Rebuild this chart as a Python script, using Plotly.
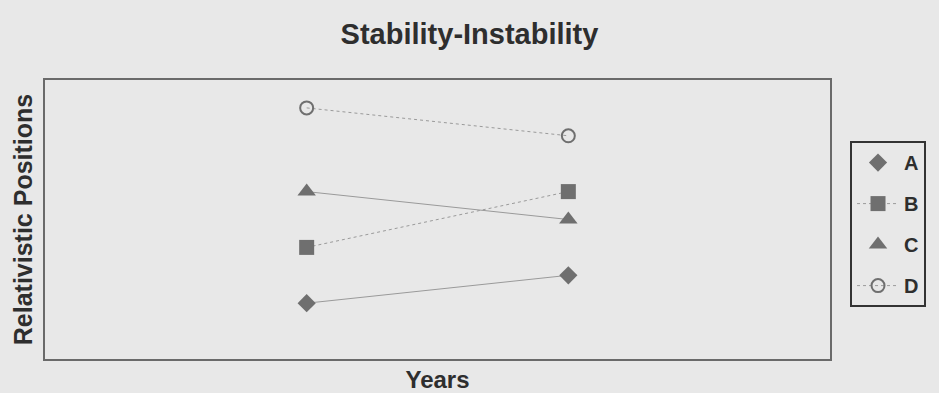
import plotly.graph_objects as go

# Two observation years, positions of four subjects in each
years = ["Year 1", "Year 2"]
series_names = ["A", "B", "C", "D"]
pos_a = [2, 3]
pos_b = [4, 6]
pos_c = [6, 5]
pos_d = [9, 8]

BG = "#e8e8e8"
MARK = "#6f6f6f"
LINE = "#9a9a9a"
TEXT = "#2e2e2e"
FONT = "Liberation Sans, Arial, sans-serif"

styles = {
    "A": dict(symbol="diamond", size=14, dash="solid", legend_line=False),
    "B": dict(symbol="square", size=15, dash="dot", legend_line=True),
    "C": dict(symbol="triangle-up", size=16, dash="solid", legend_line=False),
    "D": dict(symbol="circle-open", size=13, dash="dot", legend_line=True),
}
values = {"A": pos_a, "B": pos_b, "C": pos_c, "D": pos_d}

fig = go.Figure()
for name in series_names:
    st = styles[name]
    marker = dict(symbol=st["symbol"], size=st["size"], color=MARK,
                  line=dict(color=MARK, width=2 if "open" in st["symbol"] else 0))
    label = f"<b>{name}</b>"
    if st["legend_line"]:
        fig.add_trace(go.Scatter(
            x=years, y=values[name], name=label, mode="lines+markers",
            line=dict(color=LINE, width=1, dash=st["dash"]), marker=marker,
            legendgroup=name))
    else:
        # connecting line kept out of the legend
        fig.add_trace(go.Scatter(
            x=years, y=values[name], mode="lines", showlegend=False,
            line=dict(color=LINE, width=1, dash=st["dash"]), hoverinfo="skip"))
        fig.add_trace(go.Scatter(
            x=years, y=values[name], name=label, mode="markers", marker=marker,
            legendgroup=name))

axis_common = dict(showgrid=False, zeroline=False, showticklabels=False, ticks="",
                   showline=True, linecolor="#6a6a6a", linewidth=2, mirror=True,
                   automargin=False)

fig.update_layout(
    width=939, height=393,
    paper_bgcolor=BG, plot_bgcolor=BG,
    margin=dict(l=45, r=109, t=80, b=34),
    font=dict(family=FONT, color=TEXT),
    title=dict(text="<b>Stability-Instability</b>", x=0.5, xanchor="center",
               y=0.915, yanchor="middle", font=dict(size=29, color=TEXT)),
    xaxis=dict(axis_common, type="category", range=[-1, 2],
               title=dict(text="<b>Years</b>", font=dict(size=24), standoff=13)),
    yaxis=dict(axis_common, range=[0, 10],
               title=dict(text="<b>Relativistic Positions</b>", font=dict(size=25), standoff=3)),
    legend=dict(x=1.0255, y=0.781, xanchor="left", yanchor="top",
                bgcolor="rgba(0,0,0,0)", bordercolor="#333333", borderwidth=2,
                font=dict(size=20, color=TEXT), tracegroupgap=12,
                itemwidth=42),
    showlegend=True,
)

fig.write_html("out.html")
